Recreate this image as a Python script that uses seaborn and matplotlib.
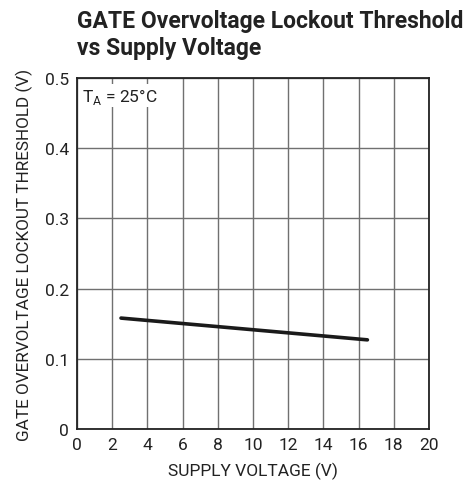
import matplotlib
matplotlib.use('Agg')
import matplotlib.pyplot as plt
import seaborn as sns
import pandas as pd

# Data
supply_v = [2.5, 16.5]
threshold_v = [0.158, 0.127]
x_ticks = [0, 2, 4, 6, 8, 10, 12, 14, 16, 18, 20]
y_ticks = [0, 0.1, 0.2, 0.3, 0.4, 0.5]
y_labels = ['0', '0.1', '0.2', '0.3', '0.4', '0.5']

df = pd.DataFrame({'supply': supply_v, 'threshold': threshold_v})

sns.set_style('white')
plt.rcParams['font.family'] = ['Roboto', 'DejaVu Sans']

fig = plt.figure(figsize=(4.69, 4.89), dpi=100)
ax = fig.add_axes([77 / 469, 1 - 430 / 489, 352 / 469, 351 / 489])

sns.lineplot(data=df, x='supply', y='threshold', color='#1a1a1a', linewidth=2.6, ax=ax)

ax.set_xlim(0, 20)
ax.set_ylim(0, 0.5)
ax.set_xticks(x_ticks)
ax.set_xticklabels([str(t) for t in x_ticks])
ax.set_yticks(y_ticks)
ax.set_yticklabels(y_labels)
ax.grid(True, color='#707070', linewidth=1.0)
ax.tick_params(length=0, labelsize=12.5, colors='#222222', pad=6)
for s in ax.spines.values():
    s.set_color('#222222')
    s.set_linewidth(1.3)

ax.set_xlabel('SUPPLY VOLTAGE (V)', fontsize=12.5, color='#222222', labelpad=7)
ax.set_ylabel('GATE OVERVOLTAGE LOCKOUT THRESHOLD (V)', fontsize=12.3, color='#222222', labelpad=8)

ax.text(0.3, 0.475, r'T$_\mathregular{A}$ = 25°C', fontsize=12.5, color='#222222',
        va='center', ha='left',
        bbox=dict(facecolor='white', edgecolor='none', pad=1))

fig.text(77 / 469, 1 - 10 / 489, 'GATE Overvoltage Lockout Threshold\nvs Supply Voltage',
         fontsize=16.5, fontweight='bold', color='#222222', ha='left', va='top',
         linespacing=1.2)

fig.savefig('out.png', dpi=100)
